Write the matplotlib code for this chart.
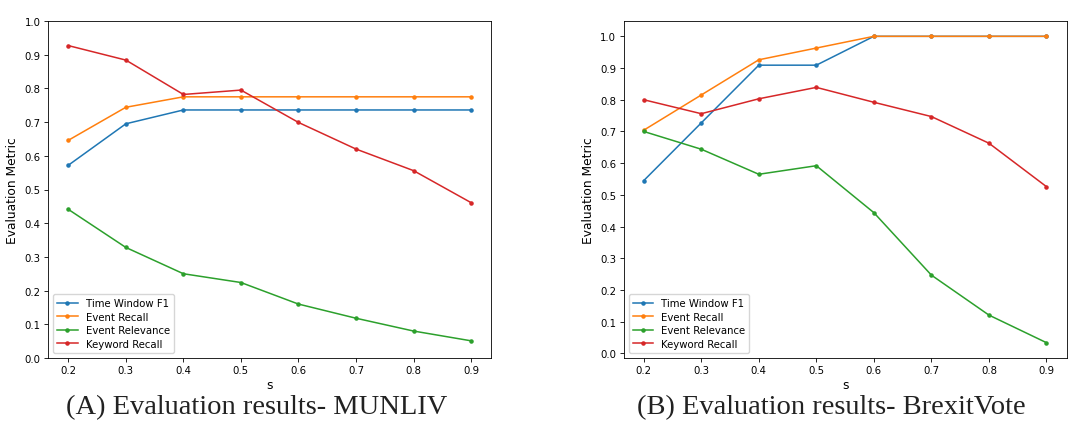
import matplotlib as mpl
mpl.use("Agg")
import matplotlib.pyplot as plt

s_values = [0.2, 0.3, 0.4, 0.5, 0.6, 0.7, 0.8, 0.9]
series_names = ["Time Window F1", "Event Recall", "Event Relevance", "Keyword Recall"]

# (A) MUNLIV
munliv_tw_f1 = [0.572, 0.695, 0.736, 0.736, 0.736, 0.736, 0.736, 0.736]
munliv_event_recall = [0.646, 0.744, 0.775, 0.775, 0.775, 0.775, 0.775, 0.775]
munliv_event_relevance = [0.441, 0.328, 0.250, 0.224, 0.160, 0.118, 0.080, 0.051]
munliv_keyword_recall = [0.927, 0.884, 0.782, 0.795, 0.699, 0.620, 0.556, 0.461]

# (B) BrexitVote
brexit_tw_f1 = [0.545, 0.727, 0.909, 0.909, 1.0, 1.0, 1.0, 1.0]
brexit_event_recall = [0.704, 0.815, 0.926, 0.963, 1.0, 1.0, 1.0, 1.0]
brexit_event_relevance = [0.700, 0.644, 0.565, 0.592, 0.444, 0.247, 0.121, 0.034]
brexit_keyword_recall = [0.800, 0.756, 0.803, 0.839, 0.792, 0.747, 0.663, 0.526]

captions = ["(A) Evaluation results- MUNLIV", "(B) Evaluation results- BrexitVote"]

COLORS = ["#1f77b4", "#ff7f0e", "#2ca02c", "#d62728"]
FS = 7.3     # tick and legend text
LFS = 8.8    # axis labels

W, H = 1068, 435
fig = plt.figure(figsize=(W / 100, H / 100), dpi=100)

panels = [
    ([munliv_tw_f1, munliv_event_recall, munliv_event_relevance, munliv_keyword_recall], 48.2, (0, 1.0)),
    ([brexit_tw_f1, brexit_event_recall, brexit_event_relevance, brexit_keyword_recall], 623.6, None),
]

for i, (data, left, ylim) in enumerate(panels):
    ax = fig.add_axes([left / W, (H - 359) / H, 443 / W, 337 / H])
    for name, vals, c in zip(series_names, data, COLORS):
        ax.plot(s_values, vals, marker=".", markersize=4.5, linewidth=1.1,
                color=c, label=name)
    if ylim is not None:
        ax.set_ylim(*ylim)
    ax.set_yticks([k / 10 for k in range(11)])
    ax.set_xticks(s_values)
    ax.tick_params(labelsize=FS, length=2.8, width=0.6, pad=2.5)
    for sp in ax.spines.values():
        sp.set_linewidth(0.6)
    ax.set_xlabel("s", fontsize=LFS, labelpad=2)
    ax.set_ylabel("Evaluation Metric", fontsize=LFS, labelpad=4)
    ax.legend(loc="lower left", fontsize=FS, handlelength=2.0,
              borderpad=0.4, labelspacing=0.35, framealpha=0.8,
              edgecolor="#cccccc")
    fig.text((left + 221 - 13) / W, 1 - 408 / H, captions[i],
             family="Liberation Serif", fontsize=20.5,
             ha="center", va="center", color="#222222")

fig.savefig("out.png", dpi=100, facecolor="white")
